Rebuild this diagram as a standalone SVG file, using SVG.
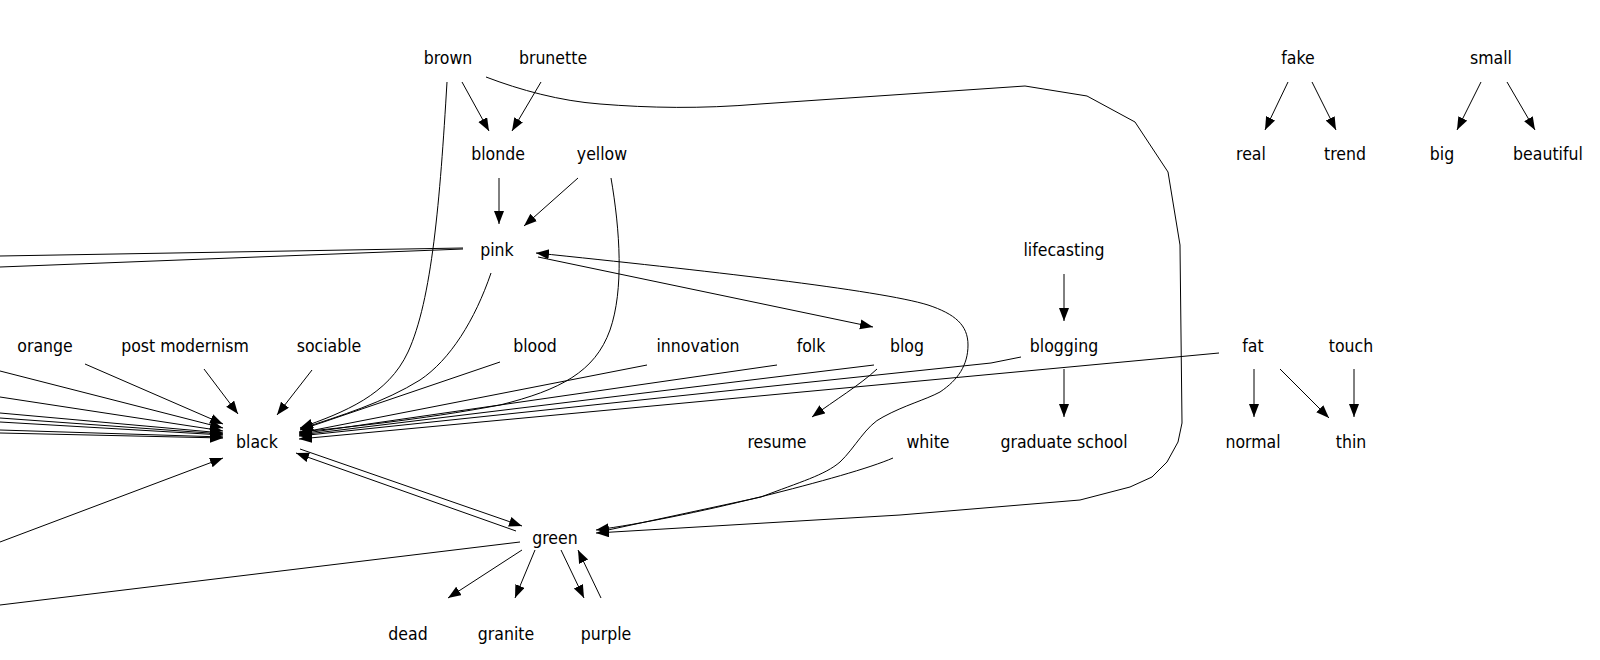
<svg xmlns="http://www.w3.org/2000/svg" width="1600" height="660" viewBox="0 0 1600 660">
<style>
text{font-family:"DejaVu Sans Condensed","DejaVu Sans",sans-serif;font-size:17.5px;fill:#000;text-anchor:middle}
.e path{fill:none;stroke:#000;stroke-width:1}
.a{marker-end:url(#ah)}
</style>
<defs>
<marker id="ah" markerUnits="userSpaceOnUse" markerWidth="14" markerHeight="11" refX="13" refY="5" orient="auto" viewBox="0 0 14 11">
<path d="M0,0 L13,5 L0,10 z" fill="#000"/>
</marker>
</defs>
<rect width="1600" height="660" fill="#fff"/>
<g class="e" id="connectors">
<path class="a" d="M462,82 L489,131"/>
<path class="a" d="M541,82 L512,131"/>
<path class="a" d="M499,178 L499,224"/>
<path class="a" d="M578,178 L524,226"/>
<path class="a" d="M1288,82 L1265,130"/>
<path class="a" d="M1312,82 L1336,130"/>
<path class="a" d="M1481,82 L1457,130"/>
<path class="a" d="M1507,82 L1535,130"/>
<path class="a" d="M1064,274 L1064,321"/>
<path class="a" d="M1064,369 L1064,417"/>
<path class="a" d="M1254,369 L1254,417"/>
<path class="a" d="M1280,369 L1329,418"/>
<path class="a" d="M1354,369 L1354,417"/>
<path class="a" d="M877,369 C860,385 835,400 812,417"/>
<path class="a" d="M538,257 L873,327"/>
<path class="a" d="M608,530 L761,497 C800,482 825,475 840,462 C855,448 866,425 883,417 C905,405 925,400 940,392 C958,380 968,365 968,345 C968,325 955,314 928,305 C880,290 700,270 536,253"/>
<path class="a" d="M486,77 C520,90 560,101 600,104 C650,108 700,109 760,104 L1025,86 L1087,96 L1135,122 L1168,172 L1180,245 L1182,423 L1178,442 L1167,462 L1152,477 L1130,487 L1080,500 L900,515 L596,533"/>
<path class="a" d="M447,82 C440,200 432,300 408,352 C388,395 345,412 300,428"/>
<path class="a" d="M491,273 C475,320 450,360 420,380 C385,402 340,416 300,429"/>
<path class="a" d="M611,178 C620,230 624,290 610,330 C595,372 560,390 500,405 C420,420 340,428 299,432"/>
<path class="a" d="M500,362 L300,430"/>
<path class="a" d="M647,365 L299,433"/>
<path class="a" d="M777,365 L299,434"/>
<path class="a" d="M874,365 L299,435"/>
<path class="a" d="M1021,357 L991,363 L299,436"/>
<path class="a" d="M1219,353 L299,439"/>
<path class="a" d="M893,458 C870,468 820,482 760,497 C700,512 640,524 596,530"/>
<path d="M463,248 L0,256"/>
<path d="M463,249 L0,267"/>
<path class="a" d="M204,369 L238,414"/>
<path class="a" d="M312,370 L277,415"/>
<path class="a" d="M85,364 L223,424"/>
<path class="a" d="M0,371 L223,428"/>
<path class="a" d="M0,397 L223,431"/>
<path class="a" d="M0,413 L223,433"/>
<path class="a" d="M0,418 L223,434"/>
<path class="a" d="M0,422 L223,435"/>
<path class="a" d="M0,430 L223,437"/>
<path class="a" d="M0,433 L223,438"/>
<path class="a" d="M0,542 L223,458"/>
<path class="a" d="M300,449 L522,526"/>
<path class="a" d="M516,531 L296,453"/>
<path d="M520,542 L0,605"/>
<path class="a" d="M522,550 L448,598"/>
<path class="a" d="M535,550 L515,598"/>
<path class="a" d="M561,550 L584,598"/>
<path class="a" d="M601,598 L578,550"/>
</g>
<g id="n-brown"><text x="448" y="64">brown</text></g>
<g id="n-brunette"><text x="553" y="64">brunette</text></g>
<g id="n-blonde"><text x="498" y="160">blonde</text></g>
<g id="n-yellow"><text x="602" y="160">yellow</text></g>
<g id="n-pink"><text x="497" y="256">pink</text></g>
<g id="n-lifecasting"><text x="1064" y="256">lifecasting</text></g>
<g id="n-orange"><text x="45" y="352">orange</text></g>
<g id="n-postmodernism"><text x="185" y="352">post modernism</text></g>
<g id="n-sociable"><text x="329" y="352">sociable</text></g>
<g id="n-blood"><text x="535" y="352">blood</text></g>
<g id="n-innovation"><text x="698" y="352">innovation</text></g>
<g id="n-folk"><text x="811" y="352">folk</text></g>
<g id="n-blog"><text x="907" y="352">blog</text></g>
<g id="n-blogging"><text x="1064" y="352">blogging</text></g>
<g id="n-fat"><text x="1253" y="352">fat</text></g>
<g id="n-touch"><text x="1351" y="352">touch</text></g>
<g id="n-black"><text x="257" y="448">black</text></g>
<g id="n-resume"><text x="777" y="448">resume</text></g>
<g id="n-white"><text x="928" y="448">white</text></g>
<g id="n-graduateschool"><text x="1064" y="448">graduate school</text></g>
<g id="n-normal"><text x="1253" y="448">normal</text></g>
<g id="n-thin"><text x="1351" y="448">thin</text></g>
<g id="n-green"><text x="555" y="544">green</text></g>
<g id="n-dead"><text x="408" y="640">dead</text></g>
<g id="n-granite"><text x="506" y="640">granite</text></g>
<g id="n-purple"><text x="606" y="640">purple</text></g>
<g id="n-fake"><text x="1298" y="64">fake</text></g>
<g id="n-small"><text x="1491" y="64">small</text></g>
<g id="n-real"><text x="1251" y="160">real</text></g>
<g id="n-trend"><text x="1345" y="160">trend</text></g>
<g id="n-big"><text x="1442" y="160">big</text></g>
<g id="n-beautiful"><text x="1548" y="160">beautiful</text></g>
</svg>
